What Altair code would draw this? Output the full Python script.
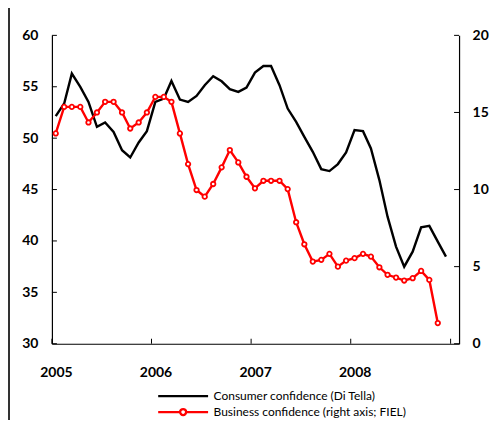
import altair as alt
import pandas as pd

consumer = [52.14, 53.37, 56.28, 54.98, 53.52, 51.10, 51.52, 50.61, 48.83, 48.12, 49.58, 50.68,
            53.52, 53.85, 55.56, 53.75, 53.52, 54.11, 55.15, 56.02, 55.53, 54.76, 54.50, 54.92,
            56.38, 57.02, 57.02, 55.15, 52.88, 51.58, 50.13, 48.67, 46.99, 46.80, 47.48, 48.61,
            50.78, 50.68, 49.00, 45.92, 42.36, 39.45, 37.50, 38.96, 41.33, 41.46, 39.93, 38.48]
business = [13.64, 15.36, 15.36, 15.36, 14.35, 15.00, 15.69, 15.69, 15.00, 13.96, 14.35, 15.00,
            16.01, 16.01, 15.69, 13.64, 11.65, 9.97, 9.54, 10.36, 11.44, 12.56, 11.76, 10.83,
            10.08, 10.57, 10.57, 10.57, 10.03, 7.88, 6.45, 5.33, 5.44, 5.83, 5.00, 5.39,
            5.55, 5.83, 5.65, 4.96, 4.47, 4.29, 4.10, 4.25, 4.72, 4.14, 1.34]
months = [(pd.Timestamp("2005-01-01") + pd.DateOffset(months=i) + pd.Timedelta(days=14)).strftime("%Y-%m-%d")
          for i in range(48)]
years = [2005, 2006, 2007, 2008]
year_ticks = [2005, 2006, 2007, 2008, 2009]
left_ticks = [30, 35, 40, 45, 50, 55, 60]
right_ticks = [0, 5, 10, 15, 20]
series_names = ["Consumer confidence (Di Tella)", "Business confidence (right axis; FIEL)"]

W, H = 408, 309
FONT = "Lato"

df_c = pd.DataFrame({"date": months, "consumer": consumer})
df_b = pd.DataFrame({"date": months[:len(business)], "business": business})
df_yt = pd.DataFrame({"date": [f"{y}-01-01" for y in year_ticks]})
df_lt = pd.DataFrame({"v": left_ticks})
df_rt = pd.DataFrame({"v": right_ticks})

xscale = alt.Scale(domain=[alt.DateTime(year=2005, month=1, date=1),
                           alt.DateTime(year=2009, month=2, date=1)])
lscale = alt.Scale(domain=[30, 60], nice=False, zero=False)
rscale = alt.Scale(domain=[0, 20], nice=False)

xaxis = alt.Axis(values=[alt.DateTime(year=y, month=1, date=1) for y in years], format="%Y",
                 title=None, ticks=False, tickSize=0, grid=False, domainColor="black", domainWidth=1.2,
                 labelFont=FONT, labelFontWeight="bold", labelFontSize=14, labelColor="black",
                 labelPadding=22, labelOffset=4, labelFlush=False, labelOverlap=False)
laxis = alt.Axis(values=left_ticks, orient="left", title=None, ticks=False, tickSize=0, grid=False,
                 domainColor="black", domainWidth=1.2, labelFont=FONT, labelFontWeight="bold",
                 labelFontSize=14, labelColor="black", labelPadding=14, labelFlush=False)
raxis = alt.Axis(values=right_ticks, orient="right", title=None, ticks=False, tickSize=0, grid=False,
                 domainColor="black", domainWidth=1.2, labelFont=FONT, labelFontWeight="bold",
                 labelFontSize=14, labelColor="black", labelPadding=13, labelFlush=False)

black_line = alt.Chart(df_c).mark_line(color="black", strokeWidth=2.4).encode(
    x=alt.X("date:T", scale=xscale, axis=xaxis),
    y=alt.Y("consumer:Q", scale=lscale, axis=laxis),
)
lticks = alt.Chart(df_lt).mark_rule(color="black", strokeWidth=1).encode(
    x=alt.value(0), x2=alt.value(5), y=alt.Y("v:Q", scale=lscale, axis=laxis)
)
xticks = alt.Chart(df_yt).mark_rule(color="black", strokeWidth=1).encode(
    x=alt.X("date:T", scale=xscale, axis=xaxis), y=alt.value(H - 5), y2=alt.value(H)
)
frame = alt.Chart(df_lt).mark_rule(color="#333333", strokeWidth=2).encode(
    x=alt.value(-43), y=alt.value(-40), y2=alt.value(H + 120)
)
left_group = alt.layer(black_line, lticks, xticks, frame)

red_line = alt.Chart(df_b).mark_line(color="#ff0000", strokeWidth=2.4).encode(
    x=alt.X("date:T", scale=xscale, axis=xaxis),
    y=alt.Y("business:Q", scale=rscale, axis=raxis),
)
red_pts = alt.Chart(df_b).mark_point(shape="circle", filled=True, fill="white", stroke="#ff0000",
                                      strokeWidth=1.8, size=20, opacity=1).encode(
    x=alt.X("date:T", scale=xscale, axis=xaxis),
    y=alt.Y("business:Q", scale=rscale, axis=raxis),
)
rticks = alt.Chart(df_rt).mark_rule(color="black", strokeWidth=1).encode(
    x=alt.value(W - 5), x2=alt.value(W), y=alt.Y("v:Q", scale=rscale, axis=raxis)
)
right_group = alt.layer(red_line, red_pts, rticks)

p_black = "M-5,0H5"
p_red = "M-5,0H-0.6M0.6,0H5M-0.6,0A0.6,0.6,0,1,1,0.6,0A0.6,0.6,0,1,1,-0.6,0"
legend_layer = alt.Chart(alt.Data(values=[{"series": series_names[0]}])).mark_point(
    filled=False, opacity=0, size=100).encode(
    color=alt.Color("series:N", scale=alt.Scale(domain=series_names, range=["black", "#ff0000"]),
                    legend=alt.Legend(title=None, orient="none", legendX=125, legendY=355,
                                      labelFont=FONT, labelFontSize=12, labelColor="black",
                                      labelLimit=400,
                                      symbolStrokeWidth=2.4, symbolOpacity=1, labelOffset=24,
                                      rowPadding=1, padding=0)),
    shape=alt.Shape("series:N", scale=alt.Scale(domain=series_names, range=[p_black, p_red])),
)

chart = alt.layer(left_group, right_group, legend_layer).resolve_scale(y="independent").properties(
    width=W, height=H,
    autosize=alt.AutoSizeParams(type="none"),
    padding={"left": 44, "top": 27, "right": 30, "bottom": 76},
).configure_view(stroke=None)

chart.save("out.html", embed_options={"renderer": "svg", "actions": False})
